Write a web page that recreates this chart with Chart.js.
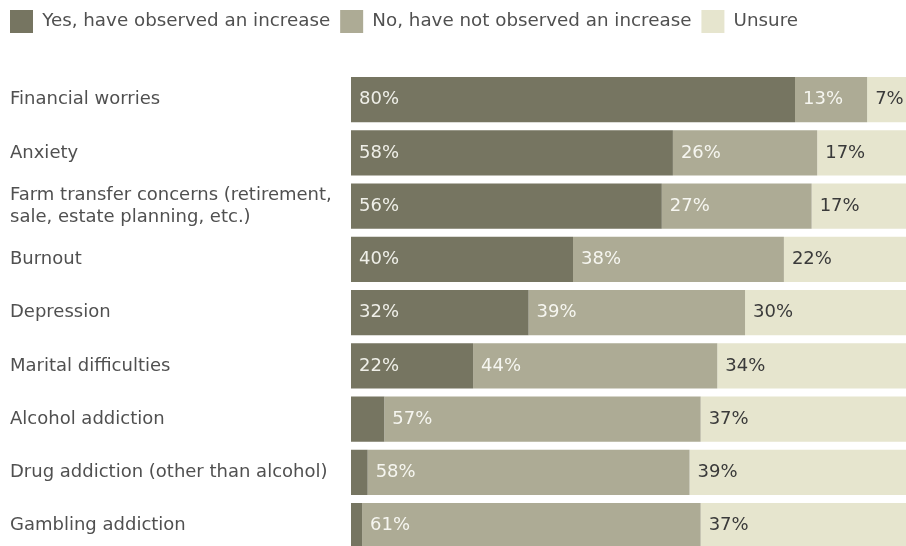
<!DOCTYPE html>
<html>
<head>
    <title>Observed increase in farmer stress factors</title>
    <script src="https://cdn.jsdelivr.net/npm/chart.js"></script>
    <style>
body {
    margin: 0;
    padding: 0;
    background-color: #ffffff;
    overflow: hidden;
}

#wrap {
    position: relative;
    width: 906px;
    height: 566px;
}
    </style>
</head>
<body>
  <div id="wrap">
    <canvas id="stressChart"></canvas>
  </div>

  <script>
// categories, top to bottom
const categories = [
    'Financial worries',
    'Anxiety',
    ['Farm transfer concerns (retirement,', 'sale, estate planning, etc.)'],
    'Burnout',
    'Depression',
    'Marital difficulties',
    'Alcohol addiction',
    'Drug addiction (other than alcohol)',
    'Gambling addiction'
];

const seriesNames = ['Yes, have observed an increase', 'No, have not observed an increase', 'Unsure'];

// percentages per series
const yesValues = [80, 58, 56, 40, 32, 22, 6, 3, 2];
const noValues = [13, 26, 27, 38, 39, 44, 57, 58, 61];
const unsureValues = [7, 17, 17, 22, 30, 34, 37, 39, 37];

// which segments get a printed value (tiny yes-bars have none)
const yesShown = [true, true, true, true, true, true, false, false, false];

const colors = ['#767561', '#adab95', '#e6e5ce'];
const labelColors = ['#efefe8', '#f6f6f0', '#3a3a3a'];
const fontFamily = "'DejaVu Sans', Verdana, sans-serif";

// adds empty space under the legend
const legendSpacer = {
    id: 'legendSpacer',
    beforeInit(chart) {
        const origFit = chart.legend.fit;
        chart.legend.fit = function () {
            origFit.call(this);
            this.height += 30;
        };
    },
    afterLayout(chart) {
        chart.legend.left = 0;
    }
};

// prints the percentage at the start of each segment
const segmentLabels = {
    id: 'segmentLabels',
    afterDatasetsDraw(chart) {
        const ctx = chart.ctx;
        ctx.save();
        ctx.font = '18px ' + fontFamily;
        ctx.textAlign = 'left';
        ctx.textBaseline = 'middle';
        chart.data.datasets.forEach((ds, i) => {
            const meta = chart.getDatasetMeta(i);
            meta.data.forEach((bar, j) => {
                if (i === 0 && !yesShown[j]) return;
                const start = Math.min(bar.x, bar.base);
                ctx.fillStyle = labelColors[i];
                ctx.fillText(ds.data[j] + '%', start + 8, bar.y);
            });
        });
        ctx.restore();
    }
};

const ctx = document.getElementById('stressChart').getContext('2d');

new Chart(ctx, {
    type: 'bar',
    data: {
        labels: categories,
        datasets: [
            { label: seriesNames[0], data: yesValues, backgroundColor: colors[0] },
            { label: seriesNames[1], data: noValues, backgroundColor: colors[1] },
            { label: seriesNames[2], data: unsureValues, backgroundColor: colors[2] }
        ]
    },
    options: {
        indexAxis: 'y',
        responsive: true,
        maintainAspectRatio: false,
        animation: false,
        layout: {
            padding: { left: 10, right: 0, top: 0, bottom: 0 }
        },
        datasets: {
            bar: {
                barPercentage: 0.85,
                categoryPercentage: 1.0,
                borderWidth: 0
            }
        },
        scales: {
            x: {
                stacked: true,
                display: false,
                min: 0,
                max: 100
            },
            y: {
                stacked: true,
                grid: { display: false },
                border: { display: false },
                ticks: {
                    crossAlign: 'far',
                    color: '#505050',
                    font: { family: fontFamily, size: 18 }
                },
                afterFit(scale) {
                    scale.width = 341;
                }
            }
        },
        plugins: {
            legend: {
                position: 'top',
                align: 'start',
                labels: {
                    boxWidth: 23,
                    boxHeight: 23,
                    padding: 10,
                    color: '#505050',
                    font: { family: fontFamily, size: 18.3 }
                }
            },
            tooltip: { enabled: false }
        }
    },
    plugins: [legendSpacer, segmentLabels]
});
  </script>
</body>
</html>
